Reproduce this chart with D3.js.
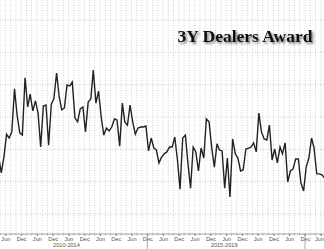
<!DOCTYPE html>
<html><head><meta charset="utf-8">
<script src="https://cdn.jsdelivr.net/npm/d3@7"></script>
<style>
html,body{margin:0;padding:0;background:#fff;}
svg{display:block;}
</style></head>
<body>
<script>
// ---- data (monthly 3Y auction dealer award, %) ----
const firstMonth = [2010, 2]; // March 2010 (year, zero-based month)
const award = [
  27.6,22.7,27.6,34.7,33.5,35.4,48.7,40.6,35.1,34.4,            // 2010 Mar-Dec
  52.1,43.1,47.1,41.9,45.0,41.2,30.7,43.4,43.7,31.3,44.0,45.6,  // 2011
  53.6,46.2,42.2,42.8,49.9,49.6,50.8,39.7,38.5,42.5,43.1,35.4,  // 2012
  44.6,45.6,54.5,44.3,48.0,40.0,34.4,36.6,35.7,36.9,39.4,39.1,  // 2013
  31.0,44.3,38.5,37.5,43.7,38.5,34.7,36.6,36.9,36.9,37.2,29.5,  // 2014
  33.5,30.4,29.8,25.8,27.6,28.6,29.2,30.7,30.7,33.8,26.7,17.7,  // 2015
  33.5,34.4,25.8,18.0,30.7,29.2,23.3,30.4,27.3,39.4,38.5,30.7,  // 2016
  24.5,31.7,29.8,29.5,18.0,27.3,15.3,33.2,28.6,27.3,23.3,23.6,  // 2017
  30.1,30.4,30.7,32.0,29.2,41.2,35.4,33.2,32.9,37.5,26.7,30.1,  // 2018
  25.8,30.7,28.6,32.0,19.9,23.3,23.9,27.0,27.0,19.6,17.1,24.5,  // 2019
  27.3,33.5,30.4,22.4,22.4,22.1,21.1                            // 2020 Jan-Jul
];
const yGridValues = [10, 20, 30, 40, 50, 60, 70];
const tickMonthLabels = ["Jun", "Dec"];
const groupLabels = ["2010-2014", "2015-2019"];
const groupBreaks = [[2009, 11], [2014, 11], [2019, 11]];
const titleText = "3Y Dealers Award";

// ---- layout ----
const W = 324, H = 249;
const data = award.map((v, i) => ({date: new Date(firstMonth[0], firstMonth[1] + i, 15), value: v}));

const x = d3.scaleTime()
  .domain([new Date(2010, 3, 15), new Date(2020, 5, 15)])
  .range([1.3, 322]);
const y = d3.scaleLinear().domain([10, 70]).range([214, 20]);
const axisY = 234;

const svg = d3.select("body").append("svg").attr("width", W).attr("height", H);

const defs = svg.append("defs");
const f = defs.append("filter").attr("id", "shadow").attr("x", "-10%").attr("y", "-30%").attr("width", "130%").attr("height", "170%");
f.append("feDropShadow").attr("dx", 1.6).attr("dy", 1.8).attr("stdDeviation", 1.3)
  .attr("flood-color", "#444").attr("flood-opacity", 0.75);

// vertical grid every 2 months (aligned with Jun/Dec)
const allMonths = d3.timeMonth.range(new Date(2009, 11, 1), new Date(2020, 9, 1));
const gridMonths = allMonths.filter(d => d.getMonth() % 2 === 1);
svg.append("g").selectAll("line").data(gridMonths).join("line")
  .attr("x1", d => x(d)).attr("x2", d => x(d))
  .attr("y1", 0).attr("y2", axisY)
  .attr("stroke", "#c4c4c4").attr("stroke-width", 0.8)
  .attr("stroke-dasharray", "1,1.5");

// horizontal grid
svg.append("g").selectAll("line").data(yGridValues).join("line")
  .attr("x1", 0).attr("x2", W)
  .attr("y1", d => y(d)).attr("y2", d => y(d))
  .attr("stroke", "#c4c4c4").attr("stroke-width", 0.8)
  .attr("stroke-dasharray", "1,1.5");

// x axis
const tickDates = allMonths
  .filter(d => tickMonthLabels.includes(d3.timeFormat("%b")(d)))
  .filter(d => x(d) >= 0 && x(d) <= W);
const xAxis = d3.axisBottom(x).tickValues(tickDates)
  .tickFormat(d3.timeFormat("%b")).tickSize(2).tickPadding(1.5);
const gx = svg.append("g").attr("transform", `translate(0,${axisY})`).call(xAxis);
gx.select(".domain").attr("stroke", "#888").attr("stroke-width", 0.8).attr("d", `M0,0H${W}`);
gx.selectAll(".tick line").attr("stroke", "#888");
gx.selectAll("text").attr("fill", "#555")
  .style("font-family", "'Liberation Sans', Arial, sans-serif").style("font-size", "5.6px");
// keep edge labels inside the picture
gx.selectAll(".tick").each(function(d) {
  const t = d3.select(this).select("text");
  const w = t.node().getComputedTextLength();
  const cx = x(d);
  if (cx - w / 2 < 0.5) t.attr("x", 0.5 - (cx - w / 2));
  else if (cx + w / 2 > W - 0.5) t.attr("x", (W - 0.5) - (cx + w / 2));
});

// minor month ticks
svg.append("g").selectAll("line").data(gridMonths).join("line")
  .attr("x1", d => x(d)).attr("x2", d => x(d))
  .attr("y1", axisY).attr("y2", axisY + 1.5)
  .attr("stroke", "#888").attr("stroke-width", 0.6);

// group separators and labels
const sepDates = groupBreaks.map(([yy, mm]) => new Date(yy, mm, 1));
svg.append("g").selectAll("line").data(sepDates).join("line")
  .attr("x1", d => x(d)).attr("x2", d => x(d))
  .attr("y1", axisY).attr("y2", H)
  .attr("stroke", "#888").attr("stroke-width", 0.7);
svg.append("g").selectAll("text").data(groupLabels).join("text")
  .attr("x", (d, i) => (x(sepDates[i]) + x(sepDates[i + 1])) / 2 - 2)
  .attr("y", 246.5)
  .attr("text-anchor", "middle")
  .attr("fill", "#555")
  .style("font-family", "'Liberation Sans', Arial, sans-serif").style("font-size", "5.6px")
  .text(d => d);

// line
const line = d3.line().x(d => x(d.date)).y(d => y(d.value));
svg.append("path").datum(data)
  .attr("d", line)
  .attr("fill", "none")
  .attr("stroke", "#222")
  .attr("stroke-width", 1.4)
  .attr("stroke-linejoin", "miter");

// title
svg.append("text")
  .attr("x", 312.5).attr("y", 41.5)
  .attr("text-anchor", "end")
  .attr("filter", "url(#shadow)")
  .attr("fill", "#111")
  .style("font-family", "'Liberation Serif', 'Times New Roman', serif")
  .style("font-weight", "bold").style("font-size", "17.5px")
  .text(titleText);
</script>
</body></html>
